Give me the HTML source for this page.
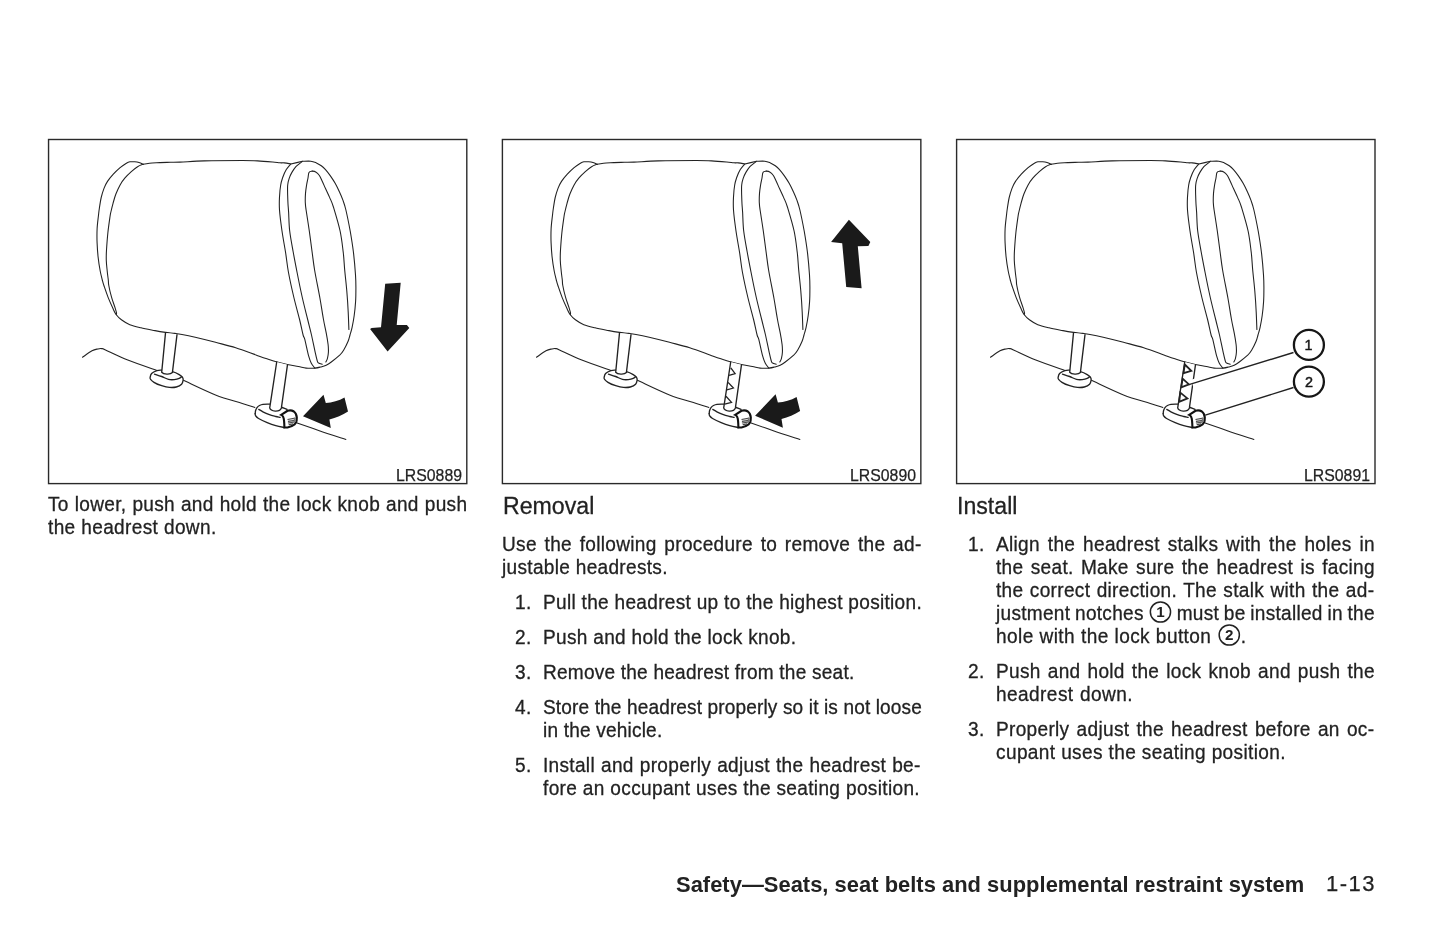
<!DOCTYPE html>
<html lang="en"><head><meta charset="utf-8"><title>Safety—Seats, seat belts and supplemental restraint system 1-13</title>
<style>
html,body{margin:0;padding:0;background:#fff}
body{width:1445px;height:929px;position:relative;overflow:hidden;will-change:transform;font-family:"Liberation Sans",sans-serif;color:#222}
.l{position:absolute;font-size:20.5px;line-height:23px;height:23px;white-space:nowrap;margin:0;transform:scaleX(0.93);transform-origin:0 0;-webkit-text-stroke:.3px #222}
.j{white-space:normal;text-align:justify;text-align-last:justify}
.lab{position:absolute;font-size:17.3px;line-height:16px;text-align:right;width:100px;transform:scaleX(.915);transform-origin:100% 50%;white-space:nowrap;-webkit-text-stroke:.25px #222}
.h{position:absolute;font-size:24.7px;line-height:26px;margin:0;font-weight:normal;letter-spacing:0;white-space:nowrap;transform:scaleX(.937);transform-origin:0 0;-webkit-text-stroke:.3px #222}
.c{display:inline-block;width:23.66px;height:22px;vertical-align:-3.6px;margin:-2px .7px 0 .9px;overflow:visible}
.foot{position:absolute;left:676px;top:871.6px;font-size:21.9px;line-height:26px;font-weight:bold;white-space:nowrap;letter-spacing:.03px}
.pg{position:absolute;left:1326px;top:871px;-webkit-text-stroke:.25px #222;font-size:22px;line-height:26px;letter-spacing:1.5px;white-space:nowrap}
</style></head><body>
<svg width="1445" height="929" viewBox="0 0 1445 929" style="position:absolute;left:0;top:0">
<defs><g id="hr" fill="none" stroke="#222" stroke-width="1.08" stroke-linecap="round" stroke-linejoin="round"><path d="M143.2 164.2C142.5 163.9 140.4 162.9 139.0 162.5C137.6 162.1 136.3 161.9 134.8 161.8C133.3 161.7 131.3 161.6 129.9 161.8C128.5 162.0 128.0 162.2 126.4 163.2C124.8 164.2 122.3 165.8 120.1 167.7C117.9 169.6 115.2 172.1 113.1 174.4C111.0 176.7 109.0 179.1 107.5 181.4C106.0 183.7 105.0 185.7 104.0 188.4C103.0 191.1 102.0 194.2 101.2 197.5C100.4 200.8 99.9 204.9 99.4 208.0C98.9 211.1 98.8 212.5 98.4 216.0C98.0 219.5 97.3 224.5 97.1 229.0C96.9 233.5 96.9 238.3 97.1 243.0C97.3 247.7 97.6 252.3 98.1 257.0C98.6 261.7 99.5 267.2 100.2 271.0C100.9 274.8 101.7 277.6 102.3 280.0C102.9 282.4 102.9 282.6 103.9 285.5C104.9 288.4 106.6 293.5 108.1 297.4C109.6 301.2 111.7 305.8 113.0 308.6C114.3 311.5 114.7 312.6 116.1 314.5C117.5 316.4 119.1 318.1 121.4 319.8C123.7 321.5 126.5 323.4 129.8 324.7C133.1 326.0 136.8 326.8 141.0 327.8C145.2 328.8 150.9 329.8 155.0 330.6C159.1 331.4 162.2 331.9 165.5 332.4C168.8 332.9 172.2 333.0 175.0 333.4C177.8 333.8 178.6 333.9 182.0 334.5C185.4 335.1 189.6 335.9 195.2 337.2C200.8 338.5 208.8 340.5 215.5 342.3C222.2 344.1 229.0 345.7 235.7 347.8C242.4 349.9 250.8 353.1 255.9 354.9C260.9 356.7 262.6 357.4 266.0 358.5C269.4 359.6 272.6 360.7 276.2 361.7C279.8 362.7 283.6 363.7 287.3 364.5C291.0 365.3 295.3 365.9 298.4 366.5C301.5 367.1 303.4 367.8 306.1 368.1C308.9 368.4 312.5 368.3 314.9 368.1C317.3 367.9 318.4 367.6 320.3 367.1C322.2 366.6 324.4 366.1 326.2 365.2C328.0 364.3 329.1 363.7 331.3 362.0C333.6 360.3 337.6 357.1 339.7 355.2C341.8 353.2 342.2 352.6 343.6 350.3C345.0 348.0 347.0 343.9 348.1 341.3C349.2 338.8 349.3 337.3 350.0 335.0C350.7 332.7 351.4 330.6 352.1 327.4C352.8 324.1 353.6 319.8 354.2 315.5C354.8 311.2 355.3 306.2 355.6 301.5C355.9 296.8 355.9 291.9 355.9 287.5C355.9 283.1 355.9 280.9 355.5 275.0C355.1 269.1 354.3 259.3 353.4 252.0C352.5 244.7 351.4 238.0 350.2 231.0C348.9 224.0 347.1 215.1 345.9 210.0C344.7 204.9 344.1 203.4 343.0 200.4C341.9 197.4 340.8 194.8 339.5 192.0C338.2 189.2 336.8 186.3 335.3 183.6C333.8 180.9 332.0 178.2 330.4 175.9C328.8 173.6 327.0 171.3 325.5 169.6C324.0 167.9 322.8 166.8 321.3 165.7C319.8 164.6 318.1 163.7 316.4 162.9C314.6 162.2 313.1 161.5 310.8 161.2C308.5 160.9 303.8 161.3 302.4 161.3"/><path d="M143.2 164.2C144.2 164.0 146.7 163.5 149.5 163.2C152.3 162.9 156.5 162.8 160.0 162.6C163.5 162.4 167.2 162.4 170.5 162.3C173.8 162.2 174.4 162.3 180.0 162.1C185.6 161.9 193.8 161.2 204.2 160.9C214.6 160.6 233.4 160.5 242.3 160.5C251.2 160.5 252.4 160.7 257.5 160.9C262.6 161.2 268.9 161.7 272.7 162.0C276.4 162.3 278.1 162.7 280.0 162.8C281.9 163.0 282.4 162.7 284.2 162.9C286.0 163.1 289.7 163.8 290.8 164.0L296.8 162.6L302.4 161.3"/><path d="M143.2 164.2C142.3 164.6 139.6 165.5 137.6 166.7C135.6 167.9 133.4 169.7 131.3 171.6C129.2 173.5 126.9 175.7 125.0 177.9C123.1 180.1 121.6 182.2 120.1 184.9C118.6 187.6 117.1 191.0 115.9 194.0C114.7 197.0 113.9 200.2 113.1 203.1C112.3 206.0 111.5 209.3 111.0 211.5C110.5 213.7 110.6 212.5 110.1 216.0C109.6 219.5 108.5 226.8 107.9 232.5C107.3 238.2 106.8 245.3 106.5 250.0C106.2 254.7 106.2 257.0 106.3 260.5C106.4 264.0 106.9 267.8 107.2 271.0C107.5 274.2 108.0 277.6 108.3 280.0C108.6 282.4 108.2 282.6 108.8 285.5C109.3 288.4 110.5 293.7 111.6 297.4C112.6 301.1 114.3 305.3 115.1 307.9C115.9 310.5 116.3 311.7 116.5 312.8C116.7 313.9 116.3 314.3 116.3 314.6"/><path d="M290.8 164.0C290.1 164.9 287.6 167.4 286.3 169.6C285.0 171.8 283.7 174.7 282.8 177.3C281.9 179.9 281.2 181.7 280.7 185.0C280.1 188.3 279.7 192.8 279.5 197.0C279.3 201.2 279.1 204.3 279.5 210.0C279.9 215.7 281.0 224.0 282.0 231.0C283.0 238.0 284.4 245.2 285.5 252.0C286.6 258.8 287.0 264.3 288.4 272.0C289.8 279.7 292.1 290.0 294.0 298.0C295.9 306.0 298.2 313.8 299.7 320.0C301.2 326.2 302.2 331.8 303.1 335.0C304.0 338.2 303.9 335.9 304.8 339.4C305.7 342.9 307.6 352.2 308.7 356.2C309.8 360.2 310.3 361.3 311.3 363.3C312.3 365.3 314.3 367.3 314.9 368.1"/><path d="M301.7 161.9C300.8 162.7 297.7 164.7 296.1 166.4C294.5 168.2 293.1 170.4 291.9 172.4C290.7 174.4 289.8 176.6 289.1 178.7C288.4 180.8 287.9 182.6 287.7 185.0C287.4 187.4 287.6 190.2 287.6 193.4C287.7 196.6 287.8 200.9 288.0 204.0C288.2 207.1 288.3 207.5 288.6 212.0C288.9 216.5 288.9 224.3 289.7 231.0C290.5 237.7 292.0 245.2 293.2 252.0C294.4 258.8 295.5 264.3 297.0 272.0C298.5 279.7 300.6 290.0 302.4 298.0C304.2 306.0 306.3 313.8 307.8 320.0C309.3 326.2 310.3 329.6 311.5 335.0C312.7 340.4 314.2 347.9 315.2 352.3C316.2 356.7 316.8 359.5 317.4 361.3C318.0 363.1 317.8 362.5 318.6 363.0C319.4 363.5 321.7 364.0 322.3 364.2"/><path d="M312.2 171.1C311.7 171.3 309.7 171.2 309.0 172.4C308.3 173.6 308.4 175.9 308.0 178.0C307.6 180.1 307.0 182.4 306.6 185.0C306.2 187.6 305.7 190.5 305.5 193.4C305.3 196.3 305.2 199.7 305.3 202.5C305.4 205.3 305.4 205.2 306.1 210.0C306.8 214.8 308.3 224.0 309.3 231.0C310.3 238.0 311.2 245.5 312.1 252.0C313.0 258.5 313.3 262.3 314.6 270.0C315.9 277.7 318.4 289.8 319.9 298.0C321.4 306.2 322.3 313.2 323.4 319.0C324.4 324.8 325.4 328.6 326.2 332.9C327.0 337.1 327.7 341.3 328.1 344.5C328.5 347.7 328.5 349.9 328.4 352.3C328.3 354.7 327.8 357.1 327.4 358.7C327.0 360.3 326.1 361.4 325.8 362.0"/><path d="M312.2 171.1C312.8 171.2 314.5 171.3 315.7 172.0C316.9 172.7 318.1 173.7 319.2 175.2C320.2 176.7 320.9 178.6 322.0 180.8C323.1 183.0 324.2 185.7 325.5 188.5C326.8 191.3 328.3 194.4 329.7 197.6C331.1 200.8 331.9 201.9 333.6 207.5C335.3 213.1 338.5 223.6 340.1 231.0C341.7 238.4 342.4 245.5 343.2 252.0C344.0 258.5 344.1 263.5 344.7 270.0C345.3 276.5 346.2 284.0 346.8 291.0C347.4 298.0 347.9 305.6 348.2 312.0C348.5 318.4 348.8 326.6 348.9 329.5"/><path d="M82.5 357.3C84.1 356.2 89.4 352.2 92.0 350.8C94.6 349.4 96.4 349.3 98.0 348.9C99.6 348.5 100.5 348.4 101.7 348.6C103.0 348.8 101.2 348.0 105.5 349.9C109.8 351.8 119.2 356.6 127.8 360.0C136.4 363.4 152.1 368.7 156.9 370.4"/><path d="M183.4 380.3C188.8 382.7 205.7 391.0 215.5 394.9C225.3 398.8 235.8 401.3 242.3 403.4C248.9 405.5 252.7 406.8 254.8 407.5"/><path d="M297.1 422.9C300.9 424.2 311.9 428.2 320.0 431.0C328.1 433.8 341.6 438.0 345.9 439.4"/><g stroke-width="1.35"><path d="M150.1 377.5C150.3 376.5 150.5 374.7 151.6 373.6C152.7 372.5 155.2 371.3 156.9 370.7C158.6 370.1 159.1 370.0 161.7 370.2C164.3 370.4 169.5 371.0 172.4 371.7C175.3 372.4 177.5 373.6 179.2 374.6C180.9 375.6 181.9 376.5 182.6 377.5C183.2 378.5 183.3 379.3 183.1 380.4C182.9 381.5 182.7 383.2 181.6 384.3C180.5 385.4 178.3 386.5 176.3 387.0C174.3 387.5 171.9 387.6 169.5 387.4C167.1 387.2 164.3 386.5 161.7 385.7C159.1 384.9 155.8 383.4 154.0 382.3C152.2 381.2 151.2 380.2 150.6 379.4C149.9 378.6 149.9 378.5 150.1 377.5Z" fill="#fff"/><path d="M154.5 374.1C155.7 374.5 159.4 375.6 161.7 376.5C164.0 377.4 166.4 378.9 168.5 379.4C170.6 379.9 172.5 379.8 174.3 379.6C176.1 379.4 178.0 378.9 179.2 378.4C180.4 377.9 181.2 376.9 181.6 376.6"/><path d="M165.5 332.9L161.7 372.2C163.5 374.3 170 375 172.4 372.6L177 334.6" fill="#fff"/><path d="M255.2 413.7C255.2 412.8 255.3 411.5 255.6 410.5C255.9 409.5 256.4 408.4 257.0 407.6C257.6 406.8 258.5 406.0 259.5 405.5C260.5 405.0 261.3 404.6 263.0 404.4C264.7 404.2 266.6 403.6 269.8 404.1C273.0 404.6 279.1 406.4 282.1 407.5C285.1 408.6 286.7 407.2 288.0 410.5C289.3 413.8 290.6 424.2 290.0 427.0C289.4 429.8 286.8 427.7 284.4 427.5C282.0 427.3 278.7 426.4 275.8 425.6C272.9 424.8 270.1 423.8 267.2 422.6C264.3 421.4 260.5 419.6 258.6 418.5C256.7 417.4 256.2 416.5 255.6 415.7C255.0 414.9 255.2 414.6 255.2 413.7Z" fill="#fff" stroke="none"/><path d="M255.2 413.7C255.3 413.2 255.3 411.5 255.6 410.5C255.9 409.5 256.4 408.4 257.0 407.6C257.6 406.8 258.5 406.0 259.5 405.5C260.5 405.0 261.3 404.6 263.0 404.4C264.7 404.2 268.7 404.2 269.8 404.1"/><path d="M282.1 407.5C282.9 407.8 286.2 409.1 287.0 409.4"/><path d="M258.8 409.4C259.5 409.8 261.1 410.9 262.9 411.8C264.7 412.7 267.2 413.8 269.4 414.6C271.5 415.4 274.0 416.0 275.8 416.5C277.6 417.0 279.4 417.2 280.1 417.4"/><path d="M255.2 413.7C255.3 414.0 255.0 414.9 255.6 415.7C256.2 416.5 256.7 417.4 258.6 418.5C260.5 419.6 264.3 421.4 267.2 422.6C270.1 423.8 272.9 424.8 275.8 425.6C278.7 426.4 283.0 427.2 284.4 427.5"/><path d="M276.7 362L269.7 407.9C270.6 411.6 279.6 412.6 281.4 407.9L287.5 364.7" fill="#fff"/></g><path d="M281.2 414.9L287.5 410.8C289.5 410.1 292 410.3 293.9 411.5C295.6 412.7 296.6 415 296.8 417.4L296.6 420.8C296.3 422.6 295.6 423.6 294.6 424.4C292.5 426 290 427 287.5 427.5L284.4 427.4C284.3 423 284.2 419.5 283.4 417.4C283 416.2 282.4 415.4 281.2 414.9Z" fill="#fff" stroke-width="2.1" stroke="#111" stroke-linejoin="miter"/><g stroke="#444" stroke-width="1.2" stroke-linecap="butt"><path d="M287.5 419.5L295.4 418.2M287.9 421.3L295.4 420.3M287.9 423L294.8 422M288.7 424.7L293.2 423.8"/></g><path d="M293.6 418L295.6 417.6L295.5 421.5L293.8 423.4Z" fill="#777" stroke="none"/></g></defs>
<g fill="none" stroke="#2a2a2a" stroke-width="1.4">
<rect x="48.55" y="139.5" width="418.25" height="344.1"/>
<rect x="502.4" y="139.5" width="418.45" height="344.1"/>
<rect x="956.6" y="139.5" width="418.4" height="344.1"/>
</g>
<use href="#hr"/>
<use href="#hr" x="454"/>
<use href="#hr" x="908"/>
<g fill="#1a1a1a">
<path d="M385.2 283.8L400.7 282.8L396.7 325.1L406.9 324.9L409.3 328.0L387.6 351.5L370.1 329.1L371.6 328.0L381.0 327.3Z"/>
<path d="M303 416.2L323.5 394.7L325.8 403C332 402.8 339 400.6 344.5 397.5L348 411.4C342.5 415 336 417.8 329.4 419.4L330.8 428.1Z"/>
<path d="M303 416.2L323.5 394.7L325.8 403C332 402.8 339 400.6 344.5 397.5L348 411.4C342.5 415 336 417.8 329.4 419.4L330.8 428.1Z" transform="translate(452.1,-0.4)"/>
<path d="M848.9 219.7L870.3 242.1L868.4 245.9L857.8 246.2L861.6 288.2L846.2 287.0L842.2 243.2L831.1 242.1Z"/>
</g>
<g fill="none" stroke="#222" stroke-linejoin="miter">
<path d="M276.8 367.9L281.1 373.7L275.1 375.4M274.1 382.4L279.4 388L272.9 389.9M272 396.3L277.5 402.3L270.7 404.2" transform="translate(454,0)" stroke-width="1.3"/>
<path d="M276.8 364.5L283.3 370.8L275.5 373.2ZM274.6 378.6L280.9 384.4L273.3 387.3ZM272.3 392.6L279.4 398.4L271.2 401.8Z" transform="translate(908,0)" stroke-width="1.8"/>
</g>
<g fill="none" stroke="#fff" stroke-width="8" stroke-linecap="butt"><path d="M1286 354.8L1192.2 383.6"/></g>
<g fill="none" stroke="#222" stroke-width="1.4"><path d="M1293.5 352.5L1188.9 384.6M1293.5 387.5L1205.3 415.2"/></g>
<g fill="#fff" stroke="#161616" stroke-width="2.3"><circle cx="1308.9" cy="344.9" r="15"/><circle cx="1308.9" cy="381.6" r="15"/></g>
<g font-family="'Liberation Sans',sans-serif" font-size="14.4" fill="#161616" stroke="#161616" stroke-width="0.45" text-anchor="middle">
<text x="1308.6" y="350.2">1</text><text x="1308.9" y="386.9">2</text></g>
</svg>
<div class="lab" style="left:362.3px;top:466.5px">LRS0889</div>
<div class="lab" style="left:816.3px;top:466.5px">LRS0890</div>
<div class="lab" style="left:1270.3px;top:466.5px">LRS0891</div>
<h2 class="h" style="left:503.2px;top:493.2px">Removal</h2>
<h2 class="h" style="left:956.6px;top:493.2px">Install</h2>
<div class="l j" id="L0" style="left:48px;top:491.5px;letter-spacing:0.330px;word-spacing:-0.800px;width:450.9px">To lower, push and hold the lock knob and push</div>
<div class="l" id="L1" style="left:48px;top:514.7px;letter-spacing:0.384px;word-spacing:0.000px"><span>the headrest down.</span></div>
<div class="l j" id="L2" style="left:501.8px;top:532.2px;letter-spacing:0.330px;word-spacing:-0.800px;width:451.2px">Use the following procedure to remove the ad-</div>
<div class="l" id="L3" style="left:501.8px;top:555.0px;letter-spacing:0.326px;word-spacing:0.000px"><span>justable headrests.</span></div>
<div class="l" id="L4" style="left:542.6px;top:590.1px;letter-spacing:0.319px;word-spacing:0.000px"><span>Pull the headrest up to the highest position.</span></div>
<div class="l" id="L5" style="left:542.6px;top:625.1px;letter-spacing:0.328px;word-spacing:0.000px"><span>Push and hold the lock knob.</span></div>
<div class="l" id="L6" style="left:542.6px;top:660.3px;letter-spacing:0.230px;word-spacing:0.000px"><span>Remove the headrest from the seat.</span></div>
<div class="l" id="L7" style="left:542.6px;top:695.4px;letter-spacing:0.139px;word-spacing:0.000px"><span>Store the headrest properly so it is not loose</span></div>
<div class="l" id="L8" style="left:542.6px;top:718.3px;letter-spacing:0.202px;word-spacing:0.000px"><span>in the vehicle.</span></div>
<div class="l j" id="L9" style="left:542.6px;top:753.4px;letter-spacing:0.330px;word-spacing:-0.800px;width:406.1px">Install and properly adjust the headrest be-</div>
<div class="l" id="L10" style="left:542.6px;top:776.3px;letter-spacing:0.363px;word-spacing:0.000px"><span>fore an occupant uses the seating position.</span></div>
<div class="l j" id="L11" style="left:995.8px;top:532.2px;letter-spacing:0.330px;word-spacing:-0.800px;width:407.4px">Align the headrest stalks with the holes in</div>
<div class="l j" id="L12" style="left:995.8px;top:555.0px;letter-spacing:0.330px;word-spacing:-0.800px;width:407.4px">the seat. Make sure the headrest is facing</div>
<div class="l j" id="L13" style="left:995.8px;top:577.9px;letter-spacing:0.330px;word-spacing:-0.800px;width:406.8px">the correct direction. The stalk with the ad-</div>
<div class="l j" id="L14" style="left:995.8px;top:600.9px;letter-spacing:0.300px;word-spacing:-1.400px;width:407.4px">justment notches <svg class="c" viewBox="0 0 22 22" preserveAspectRatio="none"><circle cx="11" cy="11" r="10.1" fill="none" stroke="#222" stroke-width="1.5"/><text x="11" y="16.4" text-anchor="middle" font-family="'Liberation Sans',sans-serif" font-weight="bold" font-size="15.2" fill="#222" letter-spacing="0">1</text></svg> must be installed in the</div>
<div class="l" id="L15" style="left:995.8px;top:623.7px;letter-spacing:0.450px;word-spacing:0.100px"><span>hole with the lock button <svg class="c" viewBox="0 0 22 22" preserveAspectRatio="none"><circle cx="11" cy="11" r="10.1" fill="none" stroke="#222" stroke-width="1.5"/><text x="11" y="16.4" text-anchor="middle" font-family="'Liberation Sans',sans-serif" font-weight="bold" font-size="15.2" fill="#222" letter-spacing="0">2</text></svg>.</span></div>
<div class="l j" id="L16" style="left:995.8px;top:658.7px;letter-spacing:0.330px;word-spacing:-0.800px;width:407.4px">Push and hold the lock knob and push the</div>
<div class="l" id="L17" style="left:995.8px;top:681.8px;letter-spacing:0.450px;word-spacing:0.824px"><span>headrest down.</span></div>
<div class="l j" id="L18" style="left:995.8px;top:717.1px;letter-spacing:0.330px;word-spacing:-0.800px;width:406.8px">Properly adjust the headrest before an oc-</div>
<div class="l" id="L19" style="left:995.8px;top:739.9px;letter-spacing:0.401px;word-spacing:0.000px"><span>cupant uses the seating position.</span></div>
<div class="l" style="left:515px;top:590.1px;letter-spacing:.3px">1.</div>
<div class="l" style="left:515px;top:625.1px;letter-spacing:.3px">2.</div>
<div class="l" style="left:515px;top:660.3px;letter-spacing:.3px">3.</div>
<div class="l" style="left:515px;top:695.4px;letter-spacing:.3px">4.</div>
<div class="l" style="left:515px;top:753.4px;letter-spacing:.3px">5.</div>
<div class="l" style="left:968px;top:532.2px;letter-spacing:.3px">1.</div>
<div class="l" style="left:968px;top:658.7px;letter-spacing:.3px">2.</div>
<div class="l" style="left:968px;top:717.1px;letter-spacing:.3px">3.</div>
<div class="foot">Safety—Seats, seat belts and supplemental restraint system</div>
<div class="pg">1-13</div>
</body></html>
